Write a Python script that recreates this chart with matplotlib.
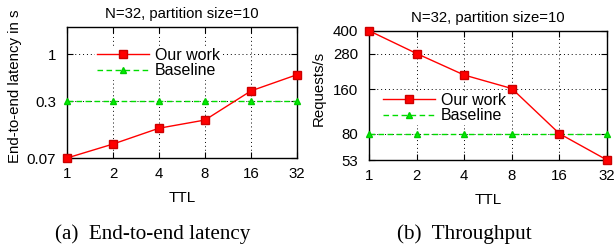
import matplotlib
matplotlib.use("Agg")
import matplotlib.pyplot as plt
from matplotlib.ticker import FixedLocator, NullLocator, FixedFormatter

ttl = [1, 2, 4, 8, 16, 32]
ttl_labels = ["1", "2", "4", "8", "16", "32"]
lat_ours = [0.07, 0.10, 0.15, 0.185, 0.39, 0.59]
lat_base = [0.3, 0.3, 0.3, 0.3, 0.3, 0.3]
lat_ticks = [0.07, 0.3, 1]
lat_tick_labels = ["0.07", "0.3", "1"]
thr_ours = [400, 280, 200, 162, 80, 53]
thr_base = [80, 80, 80, 80, 80, 80]
thr_ticks = [53, 80, 160, 280, 400]
thr_tick_labels = ["53", "80", "160", "280", "400"]

plt.rcParams['font.family'] = ['Liberation Sans', 'DejaVu Sans']

fig = plt.figure(figsize=(6.16, 2.48), dpi=100)
ax1 = fig.add_axes([67/616, 90/248, 230/616, 131/248])
ax2 = fig.add_axes([369/616, 88/248, 238/616, 129.3/248])

def style(ax, yt, ytl, ylim, ylabel, ylcoords):
    ax.set_xscale('log', base=2)
    ax.set_yscale('log')
    ax.set_xlim(1, 32)
    ax.set_ylim(*ylim)
    ax.xaxis.set_major_locator(FixedLocator(ttl))
    ax.xaxis.set_major_formatter(FixedFormatter(ttl_labels))
    ax.xaxis.set_minor_locator(NullLocator())
    ax.yaxis.set_major_locator(FixedLocator(yt))
    ax.yaxis.set_major_formatter(FixedFormatter(ytl))
    ax.yaxis.set_minor_locator(NullLocator())
    ax.tick_params(direction='in', top=True, right=True, labelsize=10.8, length=4, width=0.8)
    ax.tick_params(axis='y', pad=8)
    ax.tick_params(axis='x', pad=6.5)
    ax.grid(True, color='black', linestyle=(0, (1, 3)), linewidth=0.7)
    for s in ax.spines.values():
        s.set_linewidth(1.0)
    ax.set_title("N=32, partition size=10", fontsize=10.7, pad=6.5)
    ax.set_xlabel("TTL", fontsize=11, labelpad=7)
    ax.set_ylabel(ylabel, fontsize=10.8)
    ax.yaxis.set_label_coords(*ylcoords)

style(ax1, lat_ticks, lat_tick_labels, (0.07, 2.0), "End-to-end latency in s",
      ((21.5 - 67) / 230, 0.546))
style(ax2, thr_ticks, thr_tick_labels, (53, 400), "Requests/s",
      ((325.5 - 369) / 238, 0.557))

for ax, ours, base in [(ax1, lat_ours, lat_base), (ax2, thr_ours, thr_base)]:
    ax.plot(ttl, ours, color='#ff0000', linewidth=1.0, marker='s', markersize=6,
            markerfacecolor='#ff0000', markeredgecolor='#cc0000', label='Our work',
            clip_on=False, zorder=4)
    ax.plot(ttl, base, color='#00dd00', linewidth=1.0, linestyle=(0, (4, 2.5)),
            marker='^', markersize=4.5, markerfacecolor='#00ee00',
            markeredgecolor='#00cc00', label='Baseline', clip_on=False, zorder=3)

common = dict(fontsize=11.5, handlelength=3.3, handletextpad=0.35, labelspacing=0.05,
              borderpad=0.1, frameon=True, fancybox=False, framealpha=1,
              edgecolor='none', facecolor='white', borderaxespad=0)
ax1.legend(loc='upper left', bbox_to_anchor=(95/616, 1 - 46/248),
           bbox_transform=fig.transFigure, **common)
ax2.legend(loc='upper left', bbox_to_anchor=(381/616, 1 - 91/248),
           bbox_transform=fig.transFigure, **common)

serif = ['Liberation Serif', 'DejaVu Serif']
fig.text(152.5/616, 1 - 234/248, "(a)  End-to-end latency", ha='center', va='center',
         fontsize=15.2, family=serif)
fig.text(464/616, 1 - 234/248, "(b)  Throughput", ha='center', va='center',
         fontsize=15.2, family=serif)

fig.savefig("out.png", dpi=100)
